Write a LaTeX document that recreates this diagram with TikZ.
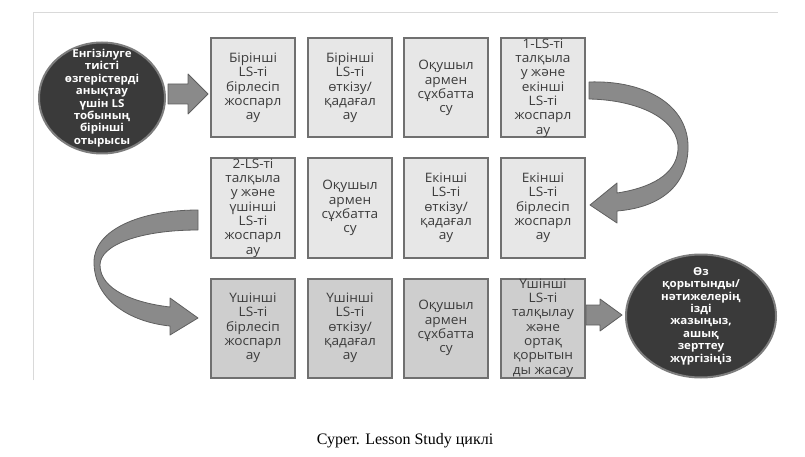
\documentclass[tikz,border=0pt]{standalone}
\usepackage{fontspec}
\setmainfont{Liberation Serif}
\newfontfamily\boxfont[FakeStretch=1.05]{Open Sans}
\usetikzlibrary{shapes.geometric}
\definecolor{lsfill}{RGB}{231,231,231}
\definecolor{lsfilldark}{RGB}{206,206,206}
\definecolor{lsedge}{RGB}{112,112,112}
\definecolor{lstext}{RGB}{60,60,60}
\definecolor{lsoval}{RGB}{58,58,58}
\definecolor{lsovaledge}{RGB}{125,125,125}
\definecolor{lsarrow}{RGB}{138,138,138}
\definecolor{lsarrowedge}{RGB}{95,95,95}
\definecolor{lsframe}{RGB}{217,217,217}
\tikzset{
  stage/.style={draw=lsedge, line width=2pt, fill=lsfill, minimum width=84pt, minimum height=99pt,
    inner sep=0pt, align=center, text=lstext, font=\boxfont\fontsize{13}{14.3}\selectfont},
  stagedark/.style={stage, fill=lsfilldark},
  oval/.style={ellipse, draw=lsovaledge, line width=2pt, fill=lsoval},
  ovaltext/.style={align=center, text=white, inner sep=0pt, font=\boxfont\bfseries\fontsize{11}{12.4}\selectfont},
  blockarrow/.style={fill=lsarrow, draw=lsarrowedge, line width=0.8pt, line join=round}
}
\begin{document}
\begin{tikzpicture}[x=1pt,y=-1pt]
\useasboundingbox (0,0) rectangle (805,457);
% Frame
\draw[lsframe, line width=1pt] (33,380) -- (33,13) -- (778,13);

% Ovals
\node[oval, minimum width=126pt, minimum height=111pt] (start) at (102,98) {};
\node[ovaltext] (starttext) at (start) {Енгізілуге\\тиісті\\өзгерістерді\\анықтау\\үшін LS\\тобының\\бірінші\\отырысы};
\node[oval, minimum width=150pt, minimum height=123pt] (finish) at (701,316) {};
\node[ovaltext] (finishtext) at (finish) {Өз\\қорытынды/\\нәтижелерің\\ізді\\жазыңыз,\\ашық\\зерттеу\\жүргізіңіз};

% Row 1
\node[stage] (s11) at (253,88) {Бірінші\\LS-ті\\бірлесіп\\жоспарл\\ау};
\node[stage] (s12) at (350,88) {Бірінші\\LS-ті\\өткізу/\\қадағал\\ау};
\node[stage] (s13) at (446,88) {Оқушыл\\армен\\сұхбатта\\су};
\node[stage] (s14) at (543,88) {1-LS-ті\\талқыла\\у және\\екінші\\LS-ті\\жоспарл\\ау};

% Row 2
\node[stage] (s21) at (253,208) {2-LS-ті\\талқыла\\у және\\үшінші\\LS-ті\\жоспарл\\ау};
\node[stage] (s22) at (350,208) {Оқушыл\\армен\\сұхбатта\\су};
\node[stage] (s23) at (446,208) {Екінші\\LS-ті\\өткізу/\\қадағал\\ау};
\node[stage] (s24) at (543,208) {Екінші\\LS-ті\\бірлесіп\\жоспарл\\ау};

% Row 3
\node[stagedark] (s31) at (253,328) {Үшінші\\LS-ті\\бірлесіп\\жоспарл\\ау};
\node[stagedark] (s32) at (350,328) {Үшінші\\LS-ті\\өткізу/\\қадағал\\ау};
\node[stagedark] (s33) at (446,328) {Оқушыл\\армен\\сұхбатта\\су};
\node[stagedark] (s34) at (543,328) {Үшінші\\LS-ті\\талқылау\\және\\ортақ\\қорытын\\ды жасау};

% Straight arrows
\draw[blockarrow] ([shift={(2,-14)}]start.east) -- ++(20,0) -- ++(0,-10) -- ++(20,20)
  -- ++(-20,20) -- ++(0,-10) -- ++(-20,0) -- cycle;
\draw[blockarrow] ([shift={(0,-23)}]s34.east) -- ++(14,0) -- ++(0,-6) -- ++(22,16)
  -- ++(-22,16) -- ++(0,-6) -- ++(-14,0) -- cycle;

% Curved arrows
\begin{scope}[shift={(s14.east)}]
\draw[blockarrow] (3,-6) .. controls (59,-8) and (104,17) .. (102,62)
  .. controls (100,102) and (69,120) .. (31,123) -- (31,135) -- (4,117) -- (31,95) -- (31,105)
  .. controls (64,100) and (90,87) .. (92,62) .. controls (94,32) and (54,12) .. (3,11) -- cycle;
\end{scope}
\begin{scope}[shift={(s21.west)}]
\draw[blockarrow] (-12,2) .. controls (-70,2) and (-116,22) .. (-116,54)
  .. controls (-116,92) and (-80,114) .. (-40,118) -- (-40,127) -- (-12,110) -- (-40,90) -- (-40,99)
  .. controls (-75,95) and (-110,82) .. (-110,57) .. controls (-110,37) and (-70,22) .. (-12,22) -- cycle;
\end{scope}

% Caption
\node[font=\fontsize{16}{19}\selectfont] (caption) at (405,441) {Сурет. Lesson Study циклі};
\end{tikzpicture}
\end{document}
